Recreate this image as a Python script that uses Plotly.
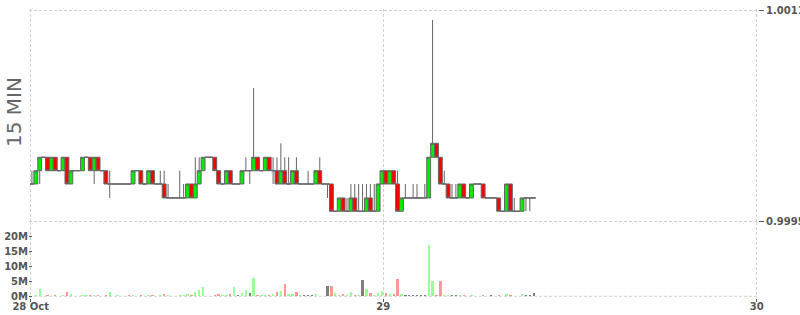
import pandas as pd
import plotly.graph_objects as go

# ---- data ----
levels = [0.999574, 0.999675, 0.999781, 0.999882, 0.999984, 1.00009]

open_lv = [2,2,3,4,4,3,4,3,3,4, 2,3,3,3,4,4,3,4,3,3, 2,2,2,2,2,2,2,3,3,2,
           2,3,2,2,2,1,1,1,1,1, 1,2,1,2,3,4,4,4,3,2, 2,3,2,2,2,3,3,3,4,3,
           3,4,3,3,2,3,2,2,3,2, 2,2,2,2,3,2,2,2,0,0, 1,0,0,1,0,0,0,1,0,0,
           2,3,2,3,2,0,1,1,1,1, 1,1,1,4,5,4,2,2,1,1, 1,2,1,1,2,2,2,1,1,1,
           1,0,0,2,0,0,0,1,1,1]
high_lv = [3,3,4,4,4,4,4,3,4,4, 3,3,3,4,4,4,4,4,3,3, 3,2,2,2,2,2,3,3,3,2,
           3,3,2,3,3,2,1,1,3,2, 2,2,4,4,4,4,4,4,3,2, 3,3,2,2,3,4,3,4,4,3,
           4,4,4,4,5,4,4,3,4,2, 2,3,2,3,4,2,2,2,0,1, 1,1,2,2,2,2,2,2,2,2,
           3,3,3,3,3,1,2,1,2,2, 1,2,4,5,5,4,3,2,2,2, 2,2,1,2,2,2,2,1,1,1,
           1,0,2,2,1,0,1,1,1,1]
low_lv = [2,2,2,4,3,3,3,3,3,2, 2,3,3,3,4,3,2,3,3,2, 1,2,2,2,2,2,2,3,2,2,
          2,2,2,2,1,1,1,1,1,1, 1,1,1,2,3,4,4,3,2,2, 2,2,2,2,2,3,2,3,3,3,
          3,3,2,2,2,2,2,2,2,2, 2,2,2,2,2,2,1,0,0,0, 0,0,0,0,0,0,0,0,0,0,
          2,2,2,2,0,0,1,1,1,1, 1,1,1,4,4,2,2,1,1,1, 1,1,1,1,2,2,1,1,1,1,
          0,0,0,0,0,0,0,0,0,1]
close_lv = [2,3,4,4,3,4,3,3,4,2, 3,3,3,4,4,3,4,3,3,2, 2,2,2,2,2,2,3,3,2,2,
            3,2,2,2,1,1,1,1,1,1, 2,1,2,3,4,4,4,3,2,2, 3,2,2,2,3,3,3,4,3,3,
            4,3,3,2,3,2,2,3,2,2, 2,2,2,3,2,2,2,0,0,1, 0,0,1,0,0,0,1,0,0,2,
            3,2,3,2,0,1,1,1,1,1, 1,1,4,5,4,2,2,1,1,1, 2,1,1,2,2,2,1,1,1,1,
            0,0,2,0,0,0,1,1,1,1]
spike_idx = [57, 103]
spike_high = [1.00051, 1.001026]

volume_m = [0.1,0.4,2.4,0.1,0.15,0.1,0.15,0.05,0.2,1.3,
            0.6,0.1,0.1,0.2,0.2,0.2,0.3,0.2,0.1,0.2,
            1.3,0.1,0.2,0.1,0.1,0.2,0.3,0.1,0.3,0.1,
            0.3,0.3,0.1,0.2,0.5,0.2,0.1,0.1,0.3,0.2,
            0.6,0.3,1.2,2.0,2.9,0.1,0.1,0.2,0.6,0.2,
            0.2,0.6,2.9,0.2,0.9,1.9,0.8,5.8,0.2,0.2,
            0.2,0.2,0.6,1.2,1.5,3.8,0.5,0.5,1.1,0.2,
            0.2,0.2,0.2,0.5,0.1,0.1,3.1,3.1,0.8,0.2,
            0.5,0.2,1.1,0.3,0.4,5.1,2.1,0.9,0.2,0.9,
            1.5,0.9,0.5,0.5,5.5,0.5,0.2,0.2,0.2,0.2,
            0.2,0.2,16.7,4.8,0.3,4.8,0.3,0.3,0.2,0.2,
            0.3,0.4,0.1,0.3,0.1,0.1,0.3,0.1,0.2,0.1,
            0.4,0.1,0.6,0.4,0.1,0.1,0.5,0.2,0.3,1.0]
volume_dir = ("n u u n d u d n u d  u n n u u d u d n d  u n u n n d u n d n  "
              "u d n u d u n n u u  u d u u u n n d d u  u d u n u u n u d u  "
              "u d u d u d u u d u  n n n u d n n d u u  d u u d u n u d u u  "
              "u d u d d u n n n n  n n u u d d u u n n  u d n u n n d n n n  "
              "d n u d n n u n n n").split()

first_candle = "2019-10-28 01:25"
x_range = ["2019-10-28 01:13:42", "2019-10-30 00:05:00"]
x_tickvals = ["2019-10-28 01:20:18", "2019-10-29 00:00", "2019-10-30 00:00"]
x_ticktext = ["28 Oct", "29", "30"]
price_ticks = [0.9995, 1.0011]
price_ticktext = ["0.9995", "1.0011"]
vol_ticks = [0, 5, 10, 15, 20]
vol_ticktext = ["0M", "5M", "10M", "15M", "20M"]

# ---- build ----
times = pd.date_range(first_candle, periods=len(open_lv), freq="15min")
o = [levels[i] for i in open_lv]
h = [levels[i] for i in high_lv]
l = [levels[i] for i in low_lv]
c = [levels[i] for i in close_lv]
for i, v in zip(spike_idx, spike_high):
    h[i] = v

dir_color = {"u": "rgba(0,255,0,0.4)", "d": "rgba(255,0,0,0.4)", "n": "rgba(0,0,0,0.5)"}
vcolors = [dir_color[d] for d in volume_dir]

GRID = "#d0d0d0"
DASH = "3px,2px"
TXT = "#555555"
tfont = dict(family="DejaVu Sans", size=10, color=TXT, weight="bold")

fig = go.Figure()
fig.add_trace(go.Candlestick(
    x=times, open=o, high=h, low=l, close=c, xaxis="x", yaxis="y",
    increasing=dict(line=dict(color="#666666", width=1), fillcolor="#00ee00"),
    decreasing=dict(line=dict(color="#666666", width=1), fillcolor="#ff0000"),
    whiskerwidth=0, showlegend=False, hoverinfo="skip"))
fig.add_trace(go.Bar(
    x=times, y=volume_m, xaxis="x", yaxis="y2", marker=dict(color=vcolors, line=dict(width=0)),
    width=9 * 60 * 1000, showlegend=False, hoverinfo="skip"))

split = 0.26125
fig.update_layout(
    template="none",
    width=800, height=315, margin=dict(l=29, r=42, t=9, b=17, autoexpand=False),
    paper_bgcolor="white", plot_bgcolor="white",
    boxgap=0, boxgroupgap=0, bargap=0,
    xaxis=dict(type="date", range=x_range, anchor="y2", tickmode="array",
               tickvals=x_tickvals, ticktext=x_ticktext, showgrid=True,
               gridcolor=GRID, griddash=DASH, gridwidth=1, ticks="outside",
               ticklen=3, tickcolor=TXT, tickfont=tfont, showline=False,
               ticklabelstandoff=-4,
               zeroline=False, automargin=False, rangeslider=dict(visible=False)),
    yaxis=dict(domain=[split, 1], range=[0.9994886, 1.0011099], side="right",
               anchor="x", tickmode="array", tickvals=price_ticks,
               ticktext=price_ticktext, showgrid=True, gridcolor=GRID,
               griddash=DASH, ticks="outside", ticklen=5, tickcolor=TXT,
               tickfont=tfont, zeroline=False, showline=False, automargin=False),
    yaxis2=dict(domain=[0, split], range=[-0.564, 24.48], side="left",
                anchor="x", tickmode="array", tickvals=vol_ticks,
                ticktext=vol_ticktext, showgrid=False, ticks="inside",
                ticklen=3, tickcolor=TXT, tickfont=tfont, zeroline=False,
                showline=False, automargin=False),
    shapes=[dict(type="line", xref="paper", x0=0, x1=1, yref="y2", y0=0, y1=0,
                 line=dict(color=GRID, width=1, dash=DASH), layer="below")],
    annotations=[dict(text="15 MIN", xref="paper", yref="paper", x=-0.0206,
                      y=0.6436, xanchor="center", yanchor="middle",
                      textangle=-90, showarrow=False,
                      font=dict(family="DejaVu Sans", size=20, color="#666666"))],
)

fig.write_html("out.html")
